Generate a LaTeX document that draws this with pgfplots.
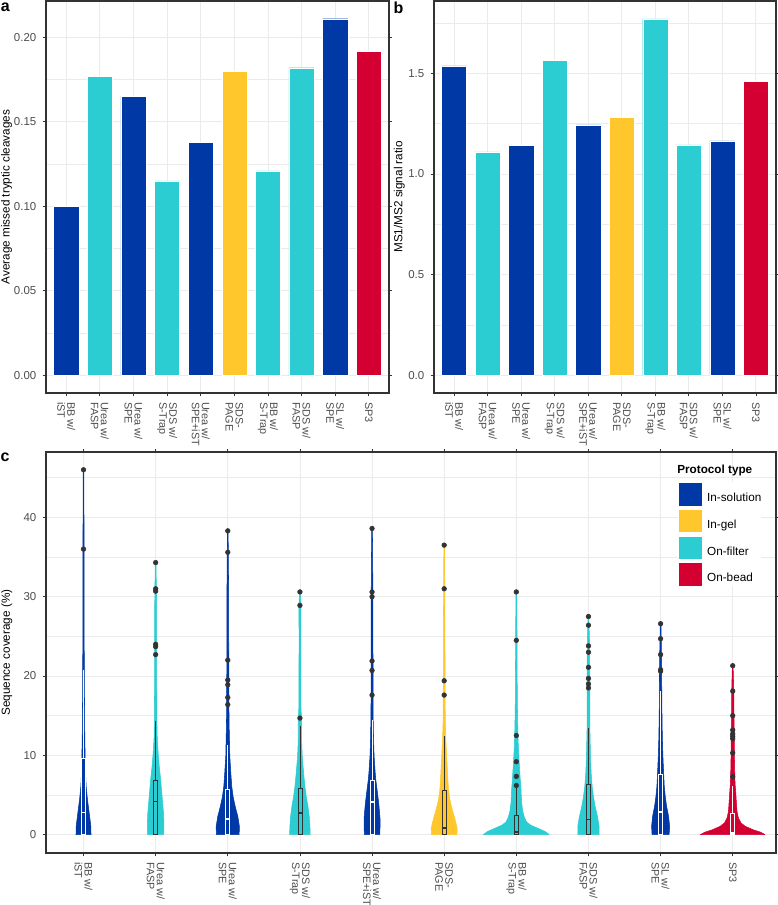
\documentclass[border=0pt]{standalone}
\usepackage{fontspec}
\setmainfont{Liberation Sans}
\usepackage{pgfplots}
\pgfplotsset{compat=1.18}
\usepackage{pgfplotstable}

\definecolor{cIns}{RGB}{0,57,166}
\definecolor{cGel}{RGB}{255,199,44}
\definecolor{cFil}{RGB}{44,204,211}
\definecolor{cBead}{RGB}{213,0,50}
\definecolor{g20}{HTML}{333333}
\definecolor{g30}{HTML}{4D4D4D}
\definecolor{g92}{HTML}{EBEBEB}

% violin outlines: y = coverage, d = signed half width (category units); right side up, left side down
\pgfplotstableread[row sep=\\]{
y d\\
0 0.104\\1.05 0.102\\2.73 0.079\\4.41 0.055\\6.09 0.037\\7.77 0.028\\9.87 0.023\\11.97 0.018\\16.2 0.014\\20.4 0.012\\24.6 0.009\\35 0.008\\46.0 0.005\\
46.0 -0.005\\35 -0.008\\24.6 -0.009\\20.4 -0.012\\16.2 -0.014\\11.97 -0.018\\9.87 -0.023\\7.77 -0.028\\6.09 -0.037\\4.41 -0.055\\2.73 -0.079\\1.05 -0.102\\0 -0.104\\0 0.104\\
}\vA
\pgfplotstableread[row sep=\\]{
y d\\
0 0.111\\1 0.115\\2.5 0.111\\4 0.097\\5.5 0.083\\7 0.069\\8.5 0.051\\10 0.037\\12 0.023\\14 0.018\\17 0.016\\20 0.014\\25 0.014\\30 0.012\\34.3 0.005\\
34.3 -0.005\\30 -0.012\\25 -0.014\\20 -0.014\\17 -0.016\\14 -0.018\\12 -0.023\\10 -0.037\\8.5 -0.051\\7 -0.069\\5.5 -0.083\\4 -0.097\\2.5 -0.111\\1 -0.115\\0 -0.111\\0 0.111\\
}\vB
\pgfplotstableread[row sep=\\]{
y d\\
0 0.157\\1 0.162\\2.3 0.139\\3.6 0.102\\4.8 0.074\\6.1 0.055\\7.8 0.042\\9.9 0.028\\12 0.023\\14.1 0.018\\16.2 0.016\\20.4 0.014\\30 0.012\\38.3 0.005\\
38.3 -0.005\\30 -0.012\\20.4 -0.014\\16.2 -0.016\\14.1 -0.018\\12 -0.023\\9.9 -0.028\\7.8 -0.042\\6.1 -0.055\\4.8 -0.074\\3.6 -0.102\\2.3 -0.139\\1 -0.162\\0 -0.157\\0 0.157\\
}\vC
\pgfplotstableread[row sep=\\]{
y d\\
0 0.143\\1.05 0.139\\2.3 0.129\\3.6 0.111\\4.8 0.088\\6.1 0.069\\7.8 0.051\\9.9 0.032\\12 0.023\\14.5 0.023\\16.2 0.014\\25 0.012\\28.9 0.014\\30.6 0.005\\
30.6 -0.005\\28.9 -0.014\\25 -0.012\\16.2 -0.014\\14.5 -0.023\\12 -0.023\\9.9 -0.032\\7.8 -0.051\\6.1 -0.069\\4.8 -0.088\\3.6 -0.111\\2.3 -0.129\\1.05 -0.139\\0 -0.143\\0 0.143\\
}\vD
\pgfplotstableread[row sep=\\]{
y d\\
0 0.106\\1 0.111\\2 0.111\\3 0.102\\4 0.092\\5 0.079\\6 0.065\\7 0.051\\8 0.042\\10 0.028\\12 0.021\\14.5 0.016\\17 0.014\\20 0.014\\25 0.012\\30 0.012\\38.6 0.005\\
38.6 -0.005\\30 -0.012\\25 -0.012\\20 -0.014\\17 -0.014\\14.5 -0.016\\12 -0.021\\10 -0.028\\8 -0.042\\7 -0.051\\6 -0.065\\5 -0.079\\4 -0.092\\3 -0.102\\2 -0.111\\1 -0.111\\0 -0.106\\0 0.106\\
}\vE
\pgfplotstableread[row sep=\\]{
y d\\
0 0.176\\0.8 0.180\\1.9 0.152\\3.2 0.111\\4.4 0.079\\5.7 0.060\\6.9 0.051\\8.6 0.042\\10.3 0.032\\12 0.023\\14 0.016\\16.2 0.014\\20 0.012\\30 0.009\\36.5 0.005\\
36.5 -0.005\\30 -0.009\\20 -0.012\\16.2 -0.014\\14 -0.016\\12 -0.023\\10.3 -0.032\\8.6 -0.042\\6.9 -0.051\\5.7 -0.060\\4.4 -0.079\\3.2 -0.111\\1.9 -0.152\\0.8 -0.180\\0 -0.176\\0 0.176\\
}\vF
\pgfplotstableread[row sep=\\]{
y d\\
0 0.457\\0.4 0.40\\0.8 0.30\\1.2 0.20\\1.6 0.143\\2.2 0.111\\3.0 0.088\\4.0 0.074\\5.7 0.065\\6.9 0.055\\8.2 0.046\\9.5 0.037\\11.1 0.028\\12.4 0.023\\14.5 0.018\\17 0.014\\20 0.012\\25 0.010\\30.6 0.005\\
30.6 -0.005\\25 -0.010\\20 -0.012\\17 -0.014\\14.5 -0.018\\12.4 -0.023\\11.1 -0.028\\9.5 -0.037\\8.2 -0.046\\6.9 -0.055\\5.7 -0.065\\4.0 -0.074\\3.0 -0.088\\2.2 -0.111\\1.6 -0.143\\1.2 -0.20\\0.8 -0.30\\0.4 -0.40\\0 -0.457\\0 0.457\\
}\vG
\pgfplotstableread[row sep=\\]{
y d\\
0 0.148\\1.05 0.148\\2.3 0.125\\3.6 0.092\\4.8 0.069\\6.1 0.051\\7.8 0.037\\9.9 0.028\\12 0.023\\14 0.018\\16.2 0.018\\20 0.018\\24 0.016\\27.5 0.005\\
27.5 -0.005\\24 -0.016\\20 -0.018\\16.2 -0.018\\14 -0.018\\12 -0.023\\9.9 -0.028\\7.8 -0.037\\6.1 -0.051\\4.8 -0.069\\3.6 -0.092\\2.3 -0.125\\1.05 -0.148\\0 -0.148\\0 0.148\\
}\vH
\pgfplotstableread[row sep=\\]{
y d\\
0 0.118\\1.05 0.125\\2.3 0.111\\3.6 0.083\\4.8 0.065\\6.1 0.051\\7.8 0.042\\9.9 0.032\\12 0.025\\14 0.021\\16.2 0.018\\18.3 0.016\\22 0.014\\26.6 0.005\\
26.6 -0.005\\22 -0.014\\18.3 -0.016\\16.2 -0.018\\14 -0.021\\12 -0.025\\9.9 -0.032\\7.8 -0.042\\6.1 -0.051\\4.8 -0.065\\3.6 -0.083\\2.3 -0.111\\1.05 -0.125\\0 -0.118\\0 0.118\\
}\vI
\pgfplotstableread[row sep=\\]{
y d\\
0 0.448\\0.3 0.39\\0.63 0.28\\1.05 0.175\\1.47 0.115\\2.1 0.079\\2.9 0.06\\4.0 0.051\\5.3 0.042\\6.5 0.032\\7.8 0.028\\9.9 0.023\\12 0.023\\14 0.018\\16.2 0.016\\18.3 0.014\\21.3 0.005\\
21.3 -0.005\\18.3 -0.014\\16.2 -0.016\\14 -0.018\\12 -0.023\\9.9 -0.023\\7.8 -0.028\\6.5 -0.032\\5.3 -0.042\\4.0 -0.051\\2.9 -0.06\\2.1 -0.079\\1.47 -0.115\\1.05 -0.175\\0.63 -0.28\\0.3 -0.39\\0 -0.448\\0 0.448\\
}\vJ

\newcommand{\violin}[3]{%
  \addplot[fill=#3, draw=#3, line width=0.4pt, forget plot] table[x expr=#1+\thisrow{d}, y=y]{#2};
}

\pgfplotsset{
  gg/.style={
    scale only axis, anchor=north west,
    axis line style={draw=g20, line width=0.8pt},
    tick align=outside,
    major tick length=2.6pt,
    minor tick length=0pt,
    every tick/.style={draw=g20, line width=0.55pt},
    xmajorgrids, ymajorgrids, yminorgrids,
    major grid style={draw=g92, line width=0.6pt},
    minor grid style={draw=g92, line width=0.35pt},
    yticklabel style={font=\fontsize{8.6}{10}\selectfont, text=g30, anchor=east, inner sep=0pt},
    yticklabel shift=4.5pt,
    label style={font=\fontsize{8.8}{10.2}\selectfont, text=black},
    xtick={1,...,10},
    xticklabels={{BB w/\\iST},{Urea w/\\FASP},{Urea w/\\SPE},{SDS w/\\S-Trap},{Urea w/\\SPE+iST},{SDS-\\PAGE},{BB w/\\S-Trap},{SDS w/\\FASP},{SL w/\\SPE},{SP3}},
    xticklabel style={font=\fontsize{8.1}{7.5}\selectfont, text=g30, rotate=-90, anchor=west, align=left, inner sep=0pt},
    xticklabel shift=4pt,
  }
}

\begin{document}
\begin{tikzpicture}
\path[use as bounding box] (0,0) rectangle (582.75pt,-678.75pt);

% ---------------- panel a ----------------
\begin{axis}[gg, at={(34.5pt,-0.75pt)}, width=257.25pt, height=294pt,
  xmin=0.4, xmax=10.6, ymin=-0.0105, ymax=0.2215,
  ytick={0,0.05,0.1,0.15,0.2},
  minor ytick={0.025,0.075,0.125,0.175},
  yticklabel={\pgfmathprintnumber[fixed,fixed zerofill,precision=2,assume math mode=true]{\tick}},
  ylabel={Average missed tryptic cleavages},
  ylabel style={at={(axis description cs:-0.115,0.5)}, anchor=center},
]
\addplot[ybar, bar width=0.75, bar shift=0pt, fill=cIns, draw=white, line width=0.3pt, forget plot]
  coordinates {(1,0.100) (3,0.165) (5,0.138) (9,0.211)};
\addplot[ybar, bar width=0.75, bar shift=0pt, fill=cFil, draw=white, line width=0.3pt, forget plot]
  coordinates {(2,0.177) (4,0.115) (7,0.121) (8,0.182)};
\addplot[ybar, bar width=0.75, bar shift=0pt, fill=cGel, draw=white, line width=0.3pt, forget plot]
  coordinates {(6,0.180)};
\addplot[ybar, bar width=0.75, bar shift=0pt, fill=cBead, draw=white, line width=0.3pt, forget plot]
  coordinates {(10,0.192)};
\end{axis}

% ---------------- panel b ----------------
\begin{axis}[gg, at={(325.5pt,-0.75pt)}, width=256.5pt, height=294pt,
  xmin=0.4, xmax=10.6, ymin=-0.0886, ymax=1.8596,
  ytick={0,0.5,1,1.5},
  minor ytick={0.25,0.75,1.25,1.75},
  yticklabel={\pgfmathprintnumber[fixed,fixed zerofill,precision=1,assume math mode=true]{\tick}},
  ylabel={MS1/MS2 signal ratio},
  ylabel style={at={(axis description cs:-0.101,0.5)}, anchor=center},
]
\addplot[ybar, bar width=0.75, bar shift=0pt, fill=cIns, draw=white, line width=0.3pt, forget plot]
  coordinates {(1,1.537) (3,1.142) (5,1.244) (9,1.165)};
\addplot[ybar, bar width=0.75, bar shift=0pt, fill=cFil, draw=white, line width=0.3pt, forget plot]
  coordinates {(2,1.110) (4,1.566) (7,1.771) (8,1.144)};
\addplot[ybar, bar width=0.75, bar shift=0pt, fill=cGel, draw=white, line width=0.3pt, forget plot]
  coordinates {(6,1.281)};
\addplot[ybar, bar width=0.75, bar shift=0pt, fill=cBead, draw=white, line width=0.3pt, forget plot]
  coordinates {(10,1.462)};
\end{axis}

% ---------------- panel c ----------------
\begin{axis}[gg, at={(34.5pt,-339pt)}, width=547.5pt, height=300.75pt,
  xmin=0.48, xmax=10.6, ymin=-2.31, ymax=48.24,
  ytick={0,10,20,30,40},
  minor ytick={5,15,25,35,45},
  yticklabel={\pgfmathprintnumber[assume math mode=true]{\tick}},
  ylabel={Sequence coverage (\%)},
  ylabel style={at={(axis description cs:-0.0538,0.5)}, anchor=center},
  unbounded coords=jump,
  legend style={at={(axis description cs:0.8658,0.9252)}, anchor=north west,
    draw=none, fill=white, font=\fontsize{8.8}{10}\selectfont,
    nodes={inner sep=0pt}, column sep=3.75pt, row sep=2pt, inner sep=0pt},
  legend cell align=left,
]
\violin{1}{\vA}{cIns}
\violin{2}{\vB}{cFil}
\violin{3}{\vC}{cIns}
\violin{4}{\vD}{cFil}
\violin{5}{\vE}{cIns}
\violin{6}{\vF}{cGel}
\violin{7}{\vG}{cFil}
\violin{8}{\vH}{cFil}
\violin{9}{\vI}{cIns}
\violin{10}{\vJ}{cBead}

% boxes (lower quartile = 0 for every protocol)
\addplot[ybar, bar width=0.055, bar shift=0pt, fill=none, draw=white, line width=0.5pt, forget plot]
  coordinates {(1,9.6) (3,5.7) (5,6.9) (9,7.6) (10,2.65)};
\addplot[ybar, bar width=0.055, bar shift=0pt, fill=none, draw=g20, line width=0.5pt, forget plot]
  coordinates {(2,6.8) (4,5.8) (6,5.6) (7,2.4) (8,6.3)};
% upper whiskers
\addplot[draw=white, line width=0.5pt, forget plot] coordinates {
  (1,9.6) (1,20.7) (1,nan) (3,5.7) (3,11.3) (3,nan) (5,6.9) (5,14.5) (5,nan)
  (9,7.6) (9,18.1) (9,nan) (10,2.65) (10,6.2)};
\addplot[draw=g20, line width=0.5pt, forget plot] coordinates {
  (2,6.8) (2,14.3) (2,nan) (4,5.8) (4,13.7) (4,nan) (6,5.6) (6,12.4) (6,nan)
  (7,2.4) (7,6.0) (7,nan) (8,6.3) (8,13.4)};
% medians
\addplot[only marks, mark=-, mark size=1.5pt, mark options={draw=white, line width=1.3pt}, forget plot]
  coordinates {(1,2.8) (3,2.0) (5,4.1) (9,2.9) (10,0.2)};
\addplot[only marks, mark=-, mark size=1.5pt, mark options={draw=g20, line width=1.3pt}, forget plot]
  coordinates {(2,4.2) (4,2.7) (6,0.8) (7,0.3) (8,1.9)};
% outliers
\addplot[only marks, mark=*, mark size=1.75pt, color=g20, forget plot] coordinates {
 (1,46.0) (1,36.0)
 (2,34.3) (2,31.0) (2,30.7) (2,24.0) (2,23.7) (2,22.7)
 (3,38.3) (3,35.6) (3,22.0) (3,19.5) (3,18.9) (3,17.3) (3,16.4)
 (4,30.6) (4,28.9) (4,14.7)
 (5,38.6) (5,30.6) (5,30.0) (5,21.9) (5,20.7) (5,17.6)
 (6,36.5) (6,31.0) (6,19.4) (6,17.6)
 (7,30.6) (7,24.5) (7,12.5) (7,9.2) (7,7.35) (7,6.2)
 (8,27.5) (8,26.4) (8,23.8) (8,23.0) (8,21.1) (8,19.7) (8,19.0) (8,18.5)
 (9,26.6) (9,24.7) (9,22.7) (9,20.8) (9,20.6)
 (10,21.3) (10,18.1) (10,15.0) (10,13.2) (10,12.7) (10,12.4) (10,12.1) (10,10.3) (10,7.3)
};

\addlegendimage{legend image code/.code={\fill[cIns,draw=white,line width=0.4pt] (0pt,-5.6pt) rectangle (17.5pt,12pt);}}
\addlegendentry{In-solution}
\addlegendimage{legend image code/.code={\fill[cGel,draw=white,line width=0.4pt] (0pt,-5.6pt) rectangle (17.5pt,12pt);}}
\addlegendentry{In-gel}
\addlegendimage{legend image code/.code={\fill[cFil,draw=white,line width=0.4pt] (0pt,-5.6pt) rectangle (17.5pt,12pt);}}
\addlegendentry{On-filter}
\addlegendimage{legend image code/.code={\fill[cBead,draw=white,line width=0.4pt] (0pt,-5.6pt) rectangle (17.5pt,12pt);}}
\addlegendentry{On-bead}

\node[anchor=west, inner sep=0pt, font=\fontsize{8.8}{10}\selectfont\bfseries] at (axis description cs:0.8644,0.9534) {Protocol type};
\end{axis}

% panel letters
\node[anchor=base west, inner sep=0pt, font=\fontsize{12}{14}\selectfont\bfseries] at (0.5pt,-8.6pt) {a};
\node[anchor=base west, inner sep=0pt, font=\fontsize{12}{14}\selectfont\bfseries] at (295pt,-10pt) {b};
\node[anchor=base west, inner sep=0pt, font=\fontsize{12}{14}\selectfont\bfseries] at (0.3pt,-346.3pt) {c};
\end{tikzpicture}
\end{document}
